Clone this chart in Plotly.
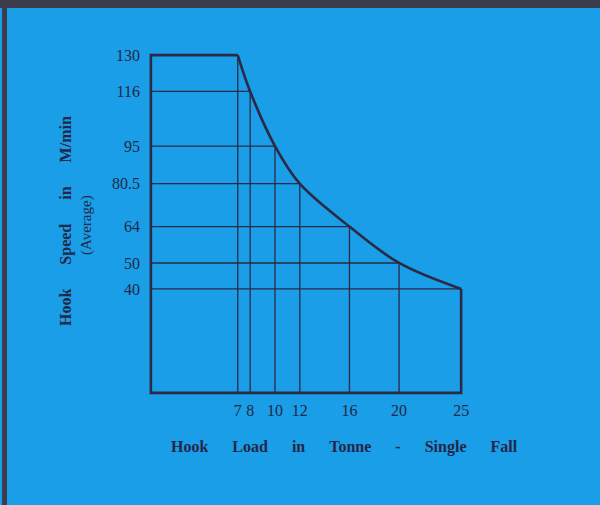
import plotly.graph_objects as go

# Data
load_t = [7, 8, 10, 12, 16, 20, 25]            # Hook load in tonne (single fall)
speed_mpm = [130, 116, 95, 80.5, 64, 50, 40]   # Hook speed in m/min (average)
x_ticks = [7, 8, 10, 12, 16, 20, 25]
x_ticktext = ["7", "8", "10", "12", "16", "20", "25"]
y_ticks = [130, 116, 95, 80.5, 64, 50, 40]
y_ticktext = ["130", "116", "95", "80.5", "64", "50", "40"]

BG = "#199ee7"
INK = "#2b2a45"
TXT = "#232748"
FONT = "Liberation Serif"

fig = go.Figure()

# grid: vertical drop lines and horizontal lines up to the curve
gx, gy = [], []
for xv, yv in zip(load_t[:-1], speed_mpm[:-1]):
    gx += [xv, xv, None]
    gy += [0, yv, None]
for xv, yv in zip(load_t[1:], speed_mpm[1:]):
    gx += [0, xv, None]
    gy += [yv, yv, None]
fig.add_trace(go.Scatter(x=gx, y=gy, mode="lines",
                         line=dict(color=INK, width=1.3), hoverinfo="skip"))

# outline: right edge, bottom, left edge, flat top
fig.add_trace(go.Scatter(
    x=[load_t[-1], load_t[-1], 0, 0, load_t[0]],
    y=[speed_mpm[-1], 0, 0, speed_mpm[0], speed_mpm[0]],
    mode="lines", line=dict(color=INK, width=2.6), hoverinfo="skip"))

# the speed curve
fig.add_trace(go.Scatter(x=load_t, y=speed_mpm, mode="lines",
                         line=dict(color=INK, width=2.6, shape="spline", smoothing=1.0),
                         hoverinfo="skip"))

fig.update_layout(
    width=600, height=505,
    margin=dict(l=149, r=137, t=53, b=110),
    paper_bgcolor=BG, plot_bgcolor=BG,
    showlegend=False,
    font=dict(family=FONT, color=TXT, size=16),
    xaxis=dict(range=[-0.15, 25.15], showgrid=False, zeroline=False, showline=False,
               tickvals=x_ticks, ticktext=x_ticktext, ticks="", ticklabelstandoff=4,
               tickfont=dict(family=FONT, size=16, color=TXT)),
    yaxis=dict(range=[-0.8, 130.8], showgrid=False, zeroline=False, showline=False,
               tickvals=y_ticks, ticktext=y_ticktext, ticks="", ticklabelstandoff=8,
               tickfont=dict(family=FONT, size=16, color=TXT)),
)

NB = "\u00a0"
gap = NB * 6
fig.add_annotation(
    text="<b>" + gap.join(["Hook", "Load", "in", "Tonne", "-", "Single", "Fall"]) + "</b>",
    xref="paper", yref="paper", x=0.624, y=-0.152, showarrow=False,
    xanchor="center", yanchor="middle", font=dict(family=FONT, size=16, color=TXT))
gap2 = NB * 6
fig.add_annotation(
    text="<b>" + gap2.join(["Hook", "Speed", "in", "M/min"]) + "</b>",
    xref="paper", yref="paper", x=(66 - 149) / 314, y=(395 - 221) / 342,
    showarrow=False, textangle=-90,
    xanchor="center", yanchor="middle", font=dict(family=FONT, size=16, color=TXT))
fig.add_annotation(
    text="(Average)",
    xref="paper", yref="paper", x=(86 - 149) / 314, y=(395 - 225) / 342,
    showarrow=False, textangle=-90,
    xanchor="center", yanchor="middle", font=dict(family=FONT, size=15, color=TXT))

# dark frame bands (top and left)
fig.add_shape(type="rect", xref="paper", yref="paper",
              x0=-0.48, x1=1.5, y0=(395 - 8) / 342, y1=(395 + 2) / 342,
              fillcolor="#3b3d4d", line=dict(width=0), layer="above")
fig.add_shape(type="rect", xref="paper", yref="paper",
              x0=(2 - 149) / 314, x1=(7 - 149) / 314, y0=-0.4, y1=1.2,
              fillcolor="#3b3d4d", line=dict(width=0), layer="above")

fig.write_html("out.html", config={"displayModeBar": False},
               post_script="document.body.style.margin='0';document.body.style.overflow='hidden';")
